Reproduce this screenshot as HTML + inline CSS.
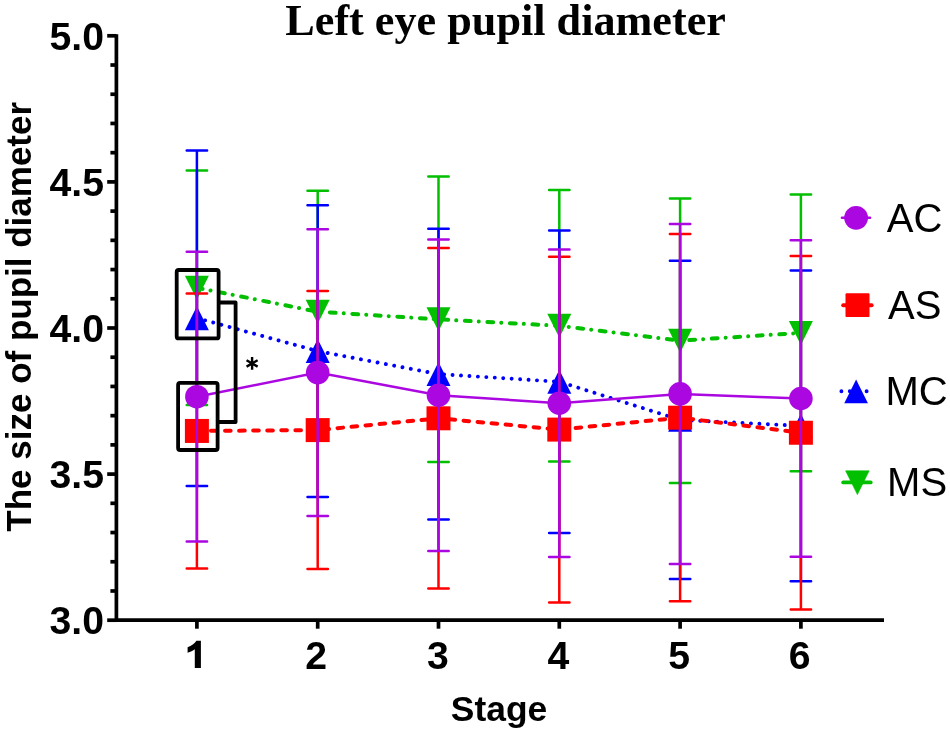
<!DOCTYPE html>
<html><head><meta charset="utf-8"><style>
html,body{margin:0;padding:0;background:#fff;}
body{width:950px;height:734px;overflow:hidden;font-family:"Liberation Sans",sans-serif;}
svg{display:block;filter:blur(0.4px);}
</style></head><body>
<svg width="950" height="734" viewBox="0 0 950 734">
<rect width="950" height="734" fill="#fff"/>
<g stroke="#000" stroke-width="3.7" fill="none">
<path d="M116.4 34.2V620.2H884"/>
<path d="M107.2 620.20H116.4"/>
<path d="M110.4 590.98H116.4"/>
<path d="M110.4 561.76H116.4"/>
<path d="M110.4 532.54H116.4"/>
<path d="M110.4 503.32H116.4"/>
<path d="M107.2 474.10H116.4"/>
<path d="M110.4 444.88H116.4"/>
<path d="M110.4 415.66H116.4"/>
<path d="M110.4 386.44H116.4"/>
<path d="M110.4 357.22H116.4"/>
<path d="M107.2 328.00H116.4"/>
<path d="M110.4 298.78H116.4"/>
<path d="M110.4 269.56H116.4"/>
<path d="M110.4 240.34H116.4"/>
<path d="M110.4 211.12H116.4"/>
<path d="M107.2 181.90H116.4"/>
<path d="M110.4 152.68H116.4"/>
<path d="M110.4 123.46H116.4"/>
<path d="M110.4 94.24H116.4"/>
<path d="M110.4 65.02H116.4"/>
<path d="M107.2 35.80H116.4"/>
<path d="M196.90 620.2V628.7"/>
<path d="M317.70 620.2V628.7"/>
<path d="M438.50 620.2V628.7"/>
<path d="M559.30 620.2V628.7"/>
<path d="M680.10 620.2V628.7"/>
<path d="M800.90 620.2V628.7"/>
</g>
<polyline points="196.90,287.75 317.70,311.70 438.50,319.35 559.30,325.75 680.10,340.65 800.90,332.90" fill="none" stroke="#02bf00" stroke-width="4" stroke-linecap="round" stroke-dasharray="5.8 8.1 0.01 8.64"/>
<g stroke="#02bf00" fill="none">
<path d="M196.90 170.40V405.10" stroke-width="2.5"/>
<path d="M186.70 170.40H207.10M186.70 405.10H207.10" stroke-width="2.5" stroke-linecap="round"/>
<path d="M317.70 190.70V432.70" stroke-width="2.5"/>
<path d="M307.50 190.70H327.90M307.50 432.70H327.90" stroke-width="2.5" stroke-linecap="round"/>
<path d="M438.50 176.60V462.10" stroke-width="2.5"/>
<path d="M428.30 176.60H448.70M428.30 462.10H448.70" stroke-width="2.5" stroke-linecap="round"/>
<path d="M559.30 190.00V461.50" stroke-width="2.5"/>
<path d="M549.10 190.00H569.50M549.10 461.50H569.50" stroke-width="2.5" stroke-linecap="round"/>
<path d="M680.10 198.40V482.90" stroke-width="2.5"/>
<path d="M669.90 198.40H690.30M669.90 482.90H690.30" stroke-width="2.5" stroke-linecap="round"/>
<path d="M800.90 194.50V471.30" stroke-width="2.5"/>
<path d="M790.70 194.50H811.10M790.70 471.30H811.10" stroke-width="2.5" stroke-linecap="round"/>
</g>
<path d="M184.90 275.75L208.90 275.75L196.90 299.75Z" fill="#02bf00"/>
<path d="M305.70 299.70L329.70 299.70L317.70 323.70Z" fill="#02bf00"/>
<path d="M426.50 307.35L450.50 307.35L438.50 331.35Z" fill="#02bf00"/>
<path d="M547.30 313.75L571.30 313.75L559.30 337.75Z" fill="#02bf00"/>
<path d="M668.10 328.65L692.10 328.65L680.10 352.65Z" fill="#02bf00"/>
<path d="M788.90 320.90L812.90 320.90L800.90 344.90Z" fill="#02bf00"/>
<polyline points="196.90,318.15 317.70,351.10 438.50,374.10 559.30,381.75 680.10,419.85 800.90,425.85" fill="none" stroke="#0000ff" stroke-width="3.9" stroke-linecap="round" stroke-dasharray="0.01 8.45"/>
<g stroke="#0000ff" fill="none">
<path d="M196.90 150.40V485.90" stroke-width="2.5"/>
<path d="M186.70 150.40H207.10M186.70 485.90H207.10" stroke-width="2.5" stroke-linecap="round"/>
<path d="M317.70 205.20V497.00" stroke-width="2.5"/>
<path d="M307.50 205.20H327.90M307.50 497.00H327.90" stroke-width="2.5" stroke-linecap="round"/>
<path d="M438.50 228.80V519.40" stroke-width="2.5"/>
<path d="M428.30 228.80H448.70M428.30 519.40H448.70" stroke-width="2.5" stroke-linecap="round"/>
<path d="M559.30 230.60V532.90" stroke-width="2.5"/>
<path d="M549.10 230.60H569.50M549.10 532.90H569.50" stroke-width="2.5" stroke-linecap="round"/>
<path d="M680.10 260.70V579.00" stroke-width="2.5"/>
<path d="M669.90 260.70H690.30M669.90 579.00H690.30" stroke-width="2.5" stroke-linecap="round"/>
<path d="M800.90 270.40V581.30" stroke-width="2.5"/>
<path d="M790.70 270.40H811.10M790.70 581.30H811.10" stroke-width="2.5" stroke-linecap="round"/>
</g>
<path d="M196.90 306.15L208.90 330.15L184.90 330.15Z" fill="#0000ff"/>
<path d="M317.70 339.10L329.70 363.10L305.70 363.10Z" fill="#0000ff"/>
<path d="M438.50 362.10L450.50 386.10L426.50 386.10Z" fill="#0000ff"/>
<path d="M559.30 369.75L571.30 393.75L547.30 393.75Z" fill="#0000ff"/>
<path d="M680.10 407.85L692.10 431.85L668.10 431.85Z" fill="#0000ff"/>
<path d="M800.90 413.85L812.90 437.85L788.90 437.85Z" fill="#0000ff"/>
<polyline points="196.90,430.95 317.70,430.10 438.50,418.30 559.30,429.60 680.10,417.70 800.90,432.75" fill="none" stroke="#ff0000" stroke-width="4" stroke-linecap="round" stroke-dasharray="5.6 8.47"/>
<g stroke="#ff0000" fill="none">
<path d="M196.90 293.50V568.40" stroke-width="2.5"/>
<path d="M186.70 293.50H207.10M186.70 568.40H207.10" stroke-width="2.5" stroke-linecap="round"/>
<path d="M317.70 291.10V569.10" stroke-width="2.5"/>
<path d="M307.50 291.10H327.90M307.50 569.10H327.90" stroke-width="2.5" stroke-linecap="round"/>
<path d="M438.50 248.10V588.50" stroke-width="2.5"/>
<path d="M428.30 248.10H448.70M428.30 588.50H448.70" stroke-width="2.5" stroke-linecap="round"/>
<path d="M559.30 256.80V602.40" stroke-width="2.5"/>
<path d="M549.10 256.80H569.50M549.10 602.40H569.50" stroke-width="2.5" stroke-linecap="round"/>
<path d="M680.10 234.10V601.30" stroke-width="2.5"/>
<path d="M669.90 234.10H690.30M669.90 601.30H690.30" stroke-width="2.5" stroke-linecap="round"/>
<path d="M800.90 255.90V609.60" stroke-width="2.5"/>
<path d="M790.70 255.90H811.10M790.70 609.60H811.10" stroke-width="2.5" stroke-linecap="round"/>
</g>
<rect x="184.90" y="418.95" width="24.00" height="24.00" fill="#ff0000"/>
<rect x="305.70" y="418.10" width="24.00" height="24.00" fill="#ff0000"/>
<rect x="426.50" y="406.30" width="24.00" height="24.00" fill="#ff0000"/>
<rect x="547.30" y="417.60" width="24.00" height="24.00" fill="#ff0000"/>
<rect x="668.10" y="405.70" width="24.00" height="24.00" fill="#ff0000"/>
<rect x="788.90" y="420.75" width="24.00" height="24.00" fill="#ff0000"/>
<polyline points="196.90,396.70 317.70,372.60 438.50,395.25 559.30,403.25 680.10,393.90 800.90,398.50" fill="none" stroke="#ab07e1" stroke-width="2.5"/>
<g stroke="#ab07e1" fill="none">
<path d="M196.90 251.80V541.60" stroke-width="2.5"/>
<path d="M186.70 251.80H207.10M186.70 541.60H207.10" stroke-width="2.5" stroke-linecap="round"/>
<path d="M317.70 229.20V516.00" stroke-width="2.5"/>
<path d="M307.50 229.20H327.90M307.50 516.00H327.90" stroke-width="2.5" stroke-linecap="round"/>
<path d="M438.50 239.40V551.10" stroke-width="2.5"/>
<path d="M428.30 239.40H448.70M428.30 551.10H448.70" stroke-width="2.5" stroke-linecap="round"/>
<path d="M559.30 249.40V557.10" stroke-width="2.5"/>
<path d="M549.10 249.40H569.50M549.10 557.10H569.50" stroke-width="2.5" stroke-linecap="round"/>
<path d="M680.10 223.90V563.90" stroke-width="2.5"/>
<path d="M669.90 223.90H690.30M669.90 563.90H690.30" stroke-width="2.5" stroke-linecap="round"/>
<path d="M800.90 240.20V556.80" stroke-width="2.5"/>
<path d="M790.70 240.20H811.10M790.70 556.80H811.10" stroke-width="2.5" stroke-linecap="round"/>
</g>
<circle cx="196.90" cy="396.70" r="11.80" fill="#ab07e1"/>
<circle cx="317.70" cy="372.60" r="11.80" fill="#ab07e1"/>
<circle cx="438.50" cy="395.25" r="11.80" fill="#ab07e1"/>
<circle cx="559.30" cy="403.25" r="11.80" fill="#ab07e1"/>
<circle cx="680.10" cy="393.90" r="11.80" fill="#ab07e1"/>
<circle cx="800.90" cy="398.50" r="11.80" fill="#ab07e1"/>
<g stroke="#000" stroke-width="3.8" fill="none" stroke-linejoin="round">
<rect x="176.7" y="270.0" width="41.9" height="68.4" rx="2"/>
<rect x="178.1" y="382.9" width="39.5" height="67.1" rx="2"/>
<path d="M218.6 302.5H235.6V422.0H217.6"/>
</g>
<path d="M252.10 357.00L252.10 369.80 M246.56 360.20L257.64 366.60 M246.56 366.60L257.64 360.20" stroke="#000" stroke-width="2.4" fill="none"/>
<line x1="842" y1="217.7" x2="870" y2="217.7" stroke="#ab07e1" stroke-width="2.6" stroke-linecap="round"/>
<circle cx="856.1" cy="217.8" r="11.9" fill="#ab07e1"/>
<line x1="843.2" y1="305.2" x2="871.6" y2="305.2" stroke="#ff0000" stroke-width="4" stroke-linecap="round"/>
<rect x="845.5" y="293.3" width="24" height="23.8" rx="1.2" fill="#ff0000"/>
<line x1="841.4" y1="391.3" x2="867.5" y2="391.3" stroke="#0000ff" stroke-width="3.9" stroke-linecap="round" stroke-dasharray="0.01 8.39"/>
<path d="M856.1 379.5L867.95 403.2L844.25 403.2Z" fill="#0000ff"/>
<line x1="843.2" y1="482.4" x2="870.7" y2="482.4" stroke="#02bf00" stroke-width="3.8" stroke-linecap="round"/>
<path d="M845.6 470.8L869.2 470.8L857.4 494.6Z" fill="#02bf00" stroke="#02bf00" stroke-width="0.6" stroke-linejoin="round"/>
<text x="886.8" y="231.6" font-family="Liberation Sans, sans-serif" font-size="40" fill="#000">AC</text>
<text x="888.0" y="318.7" font-family="Liberation Sans, sans-serif" font-size="40" fill="#000">AS</text>
<text x="885.5" y="405.2" font-family="Liberation Sans, sans-serif" font-size="40" fill="#000">MC</text>
<text x="887.1" y="496.2" font-family="Liberation Sans, sans-serif" font-size="40" fill="#000">MS</text>
<path d="M194.8 667.9H200.9V640.7H196.4C194.6 643.6 191.6 645.9 187.6 647.2V652.7C190.5 651.8 193 650.6 194.8 649.2Z" fill="#000"/>
<text x="316.20" y="668.6" text-anchor="middle" font-family="Liberation Sans, sans-serif" font-weight="bold" font-size="39.2">2</text>
<text x="438.00" y="668.6" text-anchor="middle" font-family="Liberation Sans, sans-serif" font-weight="bold" font-size="39.2">3</text>
<text x="558.50" y="668.6" text-anchor="middle" font-family="Liberation Sans, sans-serif" font-weight="bold" font-size="39.2">4</text>
<text x="679.10" y="668.6" text-anchor="middle" font-family="Liberation Sans, sans-serif" font-weight="bold" font-size="39.2">5</text>
<text x="799.60" y="668.6" text-anchor="middle" font-family="Liberation Sans, sans-serif" font-weight="bold" font-size="39.2">6</text>
<text x="104" y="50.00" text-anchor="end" font-family="Liberation Sans, sans-serif" font-weight="bold" font-size="39.2">5.0</text>
<text x="104" y="196.10" text-anchor="end" font-family="Liberation Sans, sans-serif" font-weight="bold" font-size="39.2">4.5</text>
<text x="104" y="342.20" text-anchor="end" font-family="Liberation Sans, sans-serif" font-weight="bold" font-size="39.2">4.0</text>
<text x="104" y="488.30" text-anchor="end" font-family="Liberation Sans, sans-serif" font-weight="bold" font-size="39.2">3.5</text>
<text x="104" y="634.40" text-anchor="end" font-family="Liberation Sans, sans-serif" font-weight="bold" font-size="39.2">3.0</text>
<text x="499" y="721.1" text-anchor="middle" font-family="Liberation Sans, sans-serif" font-weight="bold" font-size="35.4">Stage</text>
<text transform="translate(31 316.8) rotate(-90)" x="0" y="0" text-anchor="middle" font-family="Liberation Sans, sans-serif" font-weight="bold" font-size="35">The size of pupil diameter</text>
<text x="505.6" y="35.3" text-anchor="middle" font-family="Liberation Serif, serif" font-weight="bold" font-size="44.2">Left eye pupil diameter</text>
</svg>
</body></html>
